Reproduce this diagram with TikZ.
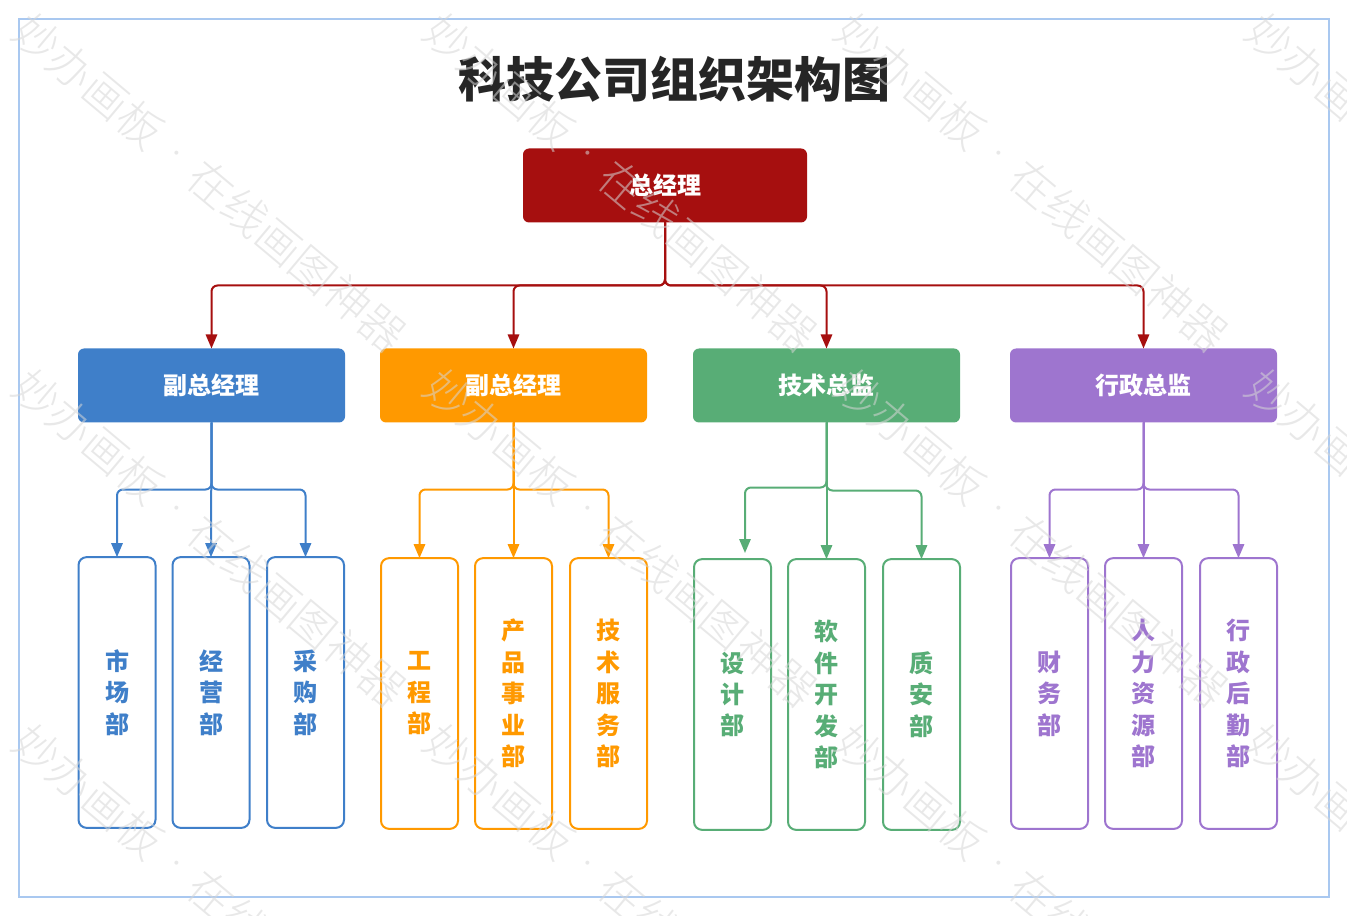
\documentclass[tikz,border=0pt]{standalone}
\usepackage{fontspec}
\setmainfont{Noto Sans CJK SC}
\newfontfamily\wmfont{Noto Sans CJK SC Light}
\usetikzlibrary{arrows.meta}
\definecolor{cred}{HTML}{A60F0F}
\definecolor{cblue}{HTML}{3F7FC9}
\definecolor{corange}{HTML}{FF9900}
\definecolor{cgreen}{HTML}{58AD76}
\definecolor{cpurple}{HTML}{9E75CF}
\definecolor{cframe}{HTML}{A9C8F0}
\definecolor{ctitle}{HTML}{262626}
\definecolor{cwm}{gray}{0.84}
\tikzset{
  headbox/.style={fill=#1,draw=none,rounded corners=4.5pt,outer sep=0pt,
    minimum width=200.25pt,minimum height=55.5pt,text=white,inner sep=0pt,
    font=\fontsize{18pt}{22pt}\selectfont\bfseries},
  deptbox/.style={draw=#1,line width=1.5pt,fill=white,rounded corners=6pt,outer sep=0pt,
    minimum width=57.75pt,minimum height=203pt,text=#1,inner sep=0pt,align=center,
    font=\fontsize{18pt}{23.6pt}\selectfont\bfseries},
  conn/.style={draw=#1,line width=1.5pt,rounded corners=4.5pt,
    -{Triangle[length=10.5pt,width=8.5pt]}},
  wmark/.style={text=cwm,text opacity=0.55,rotate=-40,inner sep=0pt,
    font=\fontsize{33.5pt}{36pt}\selectfont\wmfont}
}
\begin{document}
\begin{tikzpicture}[x=0.75pt,y=-0.75pt]
\useasboundingbox (0,0) rectangle (1347,916);
\clip (0,0) rectangle (1347,916);
\node[draw=cframe,line width=1.5pt,minimum width=982.5pt,minimum height=658.5pt,inner sep=0pt] (frame) at (674,458) {};
\node[text=ctitle,inner sep=0pt,font=\fontsize{36pt}{40pt}\selectfont\bfseries] (title) at (674,79) {科技公司组织架构图};

% top
\node[headbox=cred,minimum width=213pt] (gm) at (665,185.5) {总经理};
% second level
\node[headbox=cblue] (vpa) at (211.5,385.5) {副总经理};
\node[headbox=corange] (vpb) at (513.5,385.5) {副总经理};
\node[headbox=cgreen] (cto) at (826.5,385.5) {技术总监};
\node[headbox=cpurple] (adm) at (1143.5,385.5) {行政总监};
% departments
\node[deptbox=cblue] (a1) at (117,692.5) {市\\场\\部};
\node[deptbox=cblue] (a2) at (211,692.5) {经\\营\\部};
\node[deptbox=cblue] (a3) at (305.5,692.5) {采\\购\\部};
\node[deptbox=corange] (b1) at (419.5,693.5) {工\\程\\部};
\node[deptbox=corange] (b2) at (513.5,693.5) {产\\品\\事\\业\\部};
\node[deptbox=corange] (b3) at (608.5,693.5) {技\\术\\服\\务\\部};
\node[deptbox=cgreen] (c1) at (732.5,694.5) {设\\计\\部};
\node[deptbox=cgreen] (c2) at (826.5,694.5) {软\\件\\开\\发\\部};
\node[deptbox=cgreen] (c3) at (921.5,694.5) {质\\安\\部};
\node[deptbox=cpurple] (d1) at (1049.5,693.5) {财\\务\\部};
\node[deptbox=cpurple] (d2) at (1143.5,693.5) {人\\力\\资\\源\\部};
\node[deptbox=cpurple] (d3) at (1238.5,693.5) {行\\政\\后\\勤\\部};

% junction points and free end
\coordinate (busgm) at (665,285.5);
\coordinate (busa) at (211.5,489.5);
\coordinate (busb) at (513.5,489.5);
\coordinate (busc1) at (826.5,487.5);
\coordinate (busc3) at (826.5,490.5);
\coordinate (busd) at (1143.5,489.5);
\coordinate (cfree) at (745,553);

% connectors
\draw[conn=cred] (gm.south) -- (busgm) -| (vpa.north);
\draw[conn=cred] (gm.south) -- (busgm) -| (vpb.north);
\draw[conn=cred] (gm.south) -- (busgm) -| (cto.north);
\draw[conn=cred] (gm.south) -- (busgm) -| (adm.north);

\draw[conn=cblue] (vpa.south) -- (busa) -| (a1.north);
\draw[conn=cblue] (vpa.south) -- (a2.north);
\draw[conn=cblue] (vpa.south) -- (busa) -| (a3.north);

\draw[conn=corange] (vpb.south) -- (busb) -| (b1.north);
\draw[conn=corange] (vpb.south) -- (b2.north);
\draw[conn=corange] (vpb.south) -- (busb) -| (b3.north);

\draw[conn=cgreen] (cto.south) -- (busc1) -| (cfree);
\draw[conn=cgreen] (cto.south) -- (c2.north);
\draw[conn=cgreen] (cto.south) -- (busc3) -| (c3.north);

\draw[conn=cpurple] (adm.south) -- (busd) -| (d1.north);
\draw[conn=cpurple] (adm.south) -- (d2.north);
\draw[conn=cpurple] (adm.south) -- (busd) -| (d3.north);

% watermark
\foreach \i in {0,1,2,3}{
  \foreach \j in {0,1,2}{
    \node[wmark] (wm\i\j) at ({210+411*\i},{183+355*\j}) {妙办画板\hspace{10pt}\raisebox{8pt}{\fontsize{16pt}{16pt}\selectfont ·}\hspace{10pt}在线画图神器};
  }
}
\end{tikzpicture}
\end{document}
